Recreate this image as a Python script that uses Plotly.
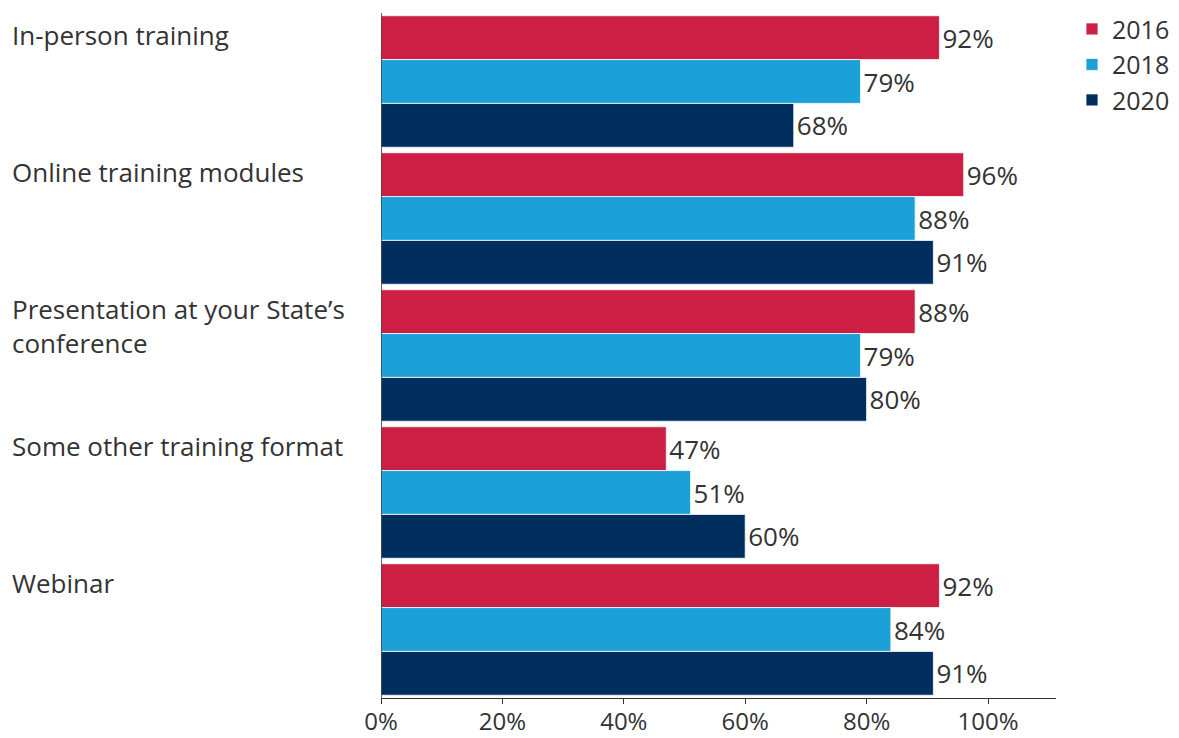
import plotly.graph_objects as go

categories = ["In-person training", "Online training modules",
              "Presentation at your State’s<br>conference", "Some other training format", "Webinar"]
years = ["2016", "2018", "2020"]
v2016 = [92, 96, 88, 47, 92]
v2018 = [79, 88, 79, 51, 84]
v2020 = [68, 91, 80, 60, 91]
tick_vals = [0, 20, 40, 60, 80, 100]
tick_text = ["0%", "20%", "40%", "60%", "80%", "100%"]

colors = ["#CC1F43", "#1BA0D7", "#002F5F"]
FONT = "Open Sans"
FS = 26
TXT = "#333333"

W, H = 1179, 738
L, R_PLOT, T, B = 381, 1056, 13, 698
paper_w = W - L

fig = go.Figure()
for name, vals, col in zip(years, [v2016, v2018, v2020], colors):
    fig.add_trace(go.Bar(
        y=list(range(len(categories))), x=vals, orientation="h", name=name,
        marker=dict(color=col, line=dict(color="rgba(255,255,255,0.8)", width=1)),
        text=[f"{v}%" for v in vals], textposition="outside",
        textfont=dict(family=FONT, size=FS, color=TXT),
        cliponaxis=False,
    ))

for i, c in enumerate(categories):
    fig.add_annotation(x=0, xref="paper", xshift=-371, xanchor="left", align="left",
                       y=i, yref="y", yanchor="top", yshift=67,
                       text=c, showarrow=False,
                       font=dict(family=FONT, size=FS, color=TXT))

fig.update_layout(
    width=W, height=H,
    margin=dict(l=L, r=0, t=T, b=H - B, autoexpand=False),
    paper_bgcolor="white", plot_bgcolor="white",
    barmode="group", bargap=0.04, bargroupgap=0,
    font=dict(family=FONT, size=FS, color=TXT),
    legend=dict(x=(1072 - L) / paper_w, y=1.01, xanchor="left", yanchor="top",
                font=dict(family=FONT, size=FS - 1, color=TXT),
                traceorder="normal", itemwidth=30, tracegroupgap=0),
    showlegend=True,
)
fig.update_xaxes(domain=[0, (R_PLOT - L) / paper_w], range=[0, 111.2],
                 tickvals=tick_vals, ticktext=tick_text, automargin=False,
                 showgrid=False, zeroline=False, showline=True, linecolor=TXT,
                 linewidth=1, ticks="outside", ticklen=5, tickcolor=TXT,
                 ticklabelstandoff=-3,
                 tickfont=dict(family=FONT, size=FS - 2, color=TXT))
fig.update_yaxes(autorange="reversed", showticklabels=False, showgrid=False,
                 zeroline=False, showline=False, automargin=False)
fig.add_shape(type="line", xref="x", yref="paper", x0=0, x1=0, y0=0, y1=1,
              line=dict(color=TXT, width=1.5))

fig.write_html("out.html", config={"displayModeBar": False},
               post_script="document.body.style.margin='0';document.body.style.overflow='hidden';")
